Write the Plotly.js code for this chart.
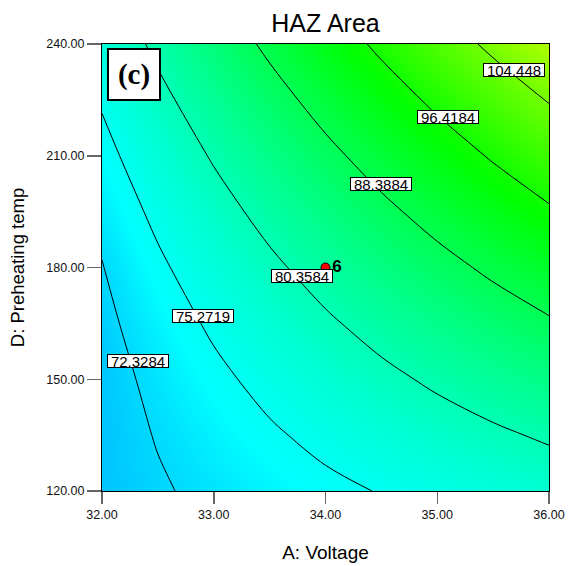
<!DOCTYPE html>
<html>
<head>
<meta charset="utf-8">
<script src="https://cdn.plot.ly/plotly-3.0.1.min.js"></script>
<style>
  html, body { margin: 0; padding: 0; background: #fff; }
  #chart { width: 568px; height: 566px; }
</style>
</head>
<body>
<div id="chart"></div>
<script>
// A: Voltage (x) grid and D: Preheating temp (y) grid
const voltage = [32, 32.5, 33, 33.5, 34, 34.5, 35, 35.5, 36];
const preheat = [120, 135, 150, 165, 180, 195, 210, 225, 240];

// HAZ Area response (rows = preheat, cols = voltage)
const hazRow120 = [71.24, 72.07, 72.91, 73.74, 74.58, 75.41, 76.25, 77.08, 77.92];
const hazRow135 = [71.25, 72.46, 73.66, 74.87, 76.08, 77.28, 78.49, 79.69, 80.90];
const hazRow150 = [71.35, 72.96, 74.58, 76.19, 77.80, 79.41, 81.03, 82.64, 84.25];
const hazRow165 = [71.70, 73.72, 75.74, 77.76, 79.78, 81.79, 83.81, 85.83, 87.85];
const hazRow180 = [72.20, 74.73, 77.15, 79.58, 82.00, 84.43, 86.85, 89.28, 91.70];
const hazRow195 = [73.15, 75.98, 78.81, 81.64, 84.48, 87.31, 90.14, 92.97, 95.80];
const hazRow210 = [74.25, 77.49, 80.73, 83.96, 87.20, 90.44, 93.68, 96.91, 100.15];
const hazRow225 = [75.60, 79.24, 82.89, 86.53, 90.18, 93.82, 97.46, 101.11, 104.75];
const hazRow240 = [77.20, 81.25, 85.30, 89.35, 93.40, 97.45, 101.50, 105.55, 109.60];

// contour levels and where their labels sit
const levels = [72.3284, 75.2719, 80.3584, 88.3884, 96.4184, 104.448];
const levelLabels = ['72.3284', '75.2719', '80.3584', '88.3884', '96.4184', '104.448'];
const labelX = [32.318, 32.908, 33.794, 34.497, 35.092, 35.687];
const labelY = [155.03, 167.11, 177.85, 202.42, 220.27, 233.15];

// design point (center point, 6 runs)
const pointX = [34];
const pointY = [180];
const pointText = ['<b>6</b>'];

const xTicks = [32, 33, 34, 35, 36];
const yTicks = [120, 150, 180, 210, 240];

const zGrid = [hazRow120, hazRow135, hazRow150, hazRow165, hazRow180,
               hazRow195, hazRow210, hazRow225, hazRow240];

const FONT = 'Arial, "Liberation Sans", sans-serif';

const traces = [];
traces.push({
  type: 'heatmap',
  x: voltage, y: preheat, z: zGrid,
  zsmooth: 'best',
  zmin: 71.2, zmax: 109.6,
  colorscale: [
    [0, 'rgb(0,195,255)'],
    [0.08, 'rgb(0,255,255)'],
    [0.62, 'rgb(0,255,0)'],
    [1, 'rgb(175,255,0)']
  ],
  showscale: false,
  hoverinfo: 'skip'
});

levels.forEach(function (lv) {
  traces.push({
    type: 'contour',
    x: voltage, y: preheat, z: zGrid,
    autocontour: false,
    contours: { start: lv, end: lv, size: 1, coloring: 'none', showlabels: false },
    line: { color: 'black', width: 1, smoothing: 1 },
    showscale: false,
    hoverinfo: 'skip'
  });
});

traces.push({
  type: 'scatter',
  mode: 'markers+text',
  x: pointX, y: pointY, text: pointText,
  textposition: 'middle right',
  textfont: { family: FONT, size: 17, color: 'black' },
  marker: { color: 'red', size: 9, line: { color: 'black', width: 1 } },
  cliponaxis: false,
  hoverinfo: 'skip'
});

const annotations = levels.map(function (lv, i) {
  return {
    x: labelX[i], y: labelY[i], xref: 'x', yref: 'y',
    text: levelLabels[i], showarrow: false,
    font: { family: FONT, size: 15, color: 'black' },
    bgcolor: 'white', bordercolor: 'black', borderwidth: 1, borderpad: 0,
    width: 60, height: 12
  };
});
annotations.push({
  x: 0.0725, y: 0.9315, xref: 'paper', yref: 'paper',
  xanchor: 'center', yanchor: 'middle',
  text: '<b>(c)</b>', showarrow: false,
  font: { family: '"Times New Roman", "Liberation Serif", serif', size: 29, color: 'black' },
  bgcolor: 'white', bordercolor: 'black', borderwidth: 2, borderpad: 0,
  width: 50, height: 49
});

const layout = {
  width: 568, height: 566,
  margin: { l: 102, r: 19, t: 44, b: 75 },
  paper_bgcolor: 'white', plot_bgcolor: 'white',
  showlegend: false,
  font: { family: FONT, color: 'black' },
  title: {
    text: 'HAZ Area', xref: 'paper', x: 0.5, xanchor: 'center',
    yref: 'container', y: 0.959, yanchor: 'middle',
    font: { family: FONT, size: 25, color: 'black' }
  },
  xaxis: {
    range: [32, 36], tickvals: xTicks, tickformat: '.2f',
    ticks: 'outside', ticklen: 12, tickwidth: 1.5, tickcolor: '#666',
    tickfont: { family: FONT, size: 12.5, color: '#111' },
    showline: true, linecolor: 'black', linewidth: 1, mirror: true,
    showgrid: false, zeroline: false,
    title: { text: 'A: Voltage', font: { family: FONT, size: 19, color: 'black' }, standoff: 24 }
  },
  yaxis: {
    range: [120, 240], tickvals: yTicks, tickformat: '.2f',
    ticks: 'outside', ticklen: 14, tickwidth: 1.5, tickcolor: '#666',
    tickfont: { family: FONT, size: 12.5, color: '#111' },
    showline: true, linecolor: 'black', linewidth: 1, mirror: true,
    showgrid: false, zeroline: false,
    title: { text: 'D: Preheating temp', font: { family: FONT, size: 18.5, color: 'black' }, standoff: 16 }
  },
  annotations: annotations
};

Plotly.newPlot('chart', traces, layout, { displayModeBar: false, staticPlot: true });
</script>
</body>
</html>
